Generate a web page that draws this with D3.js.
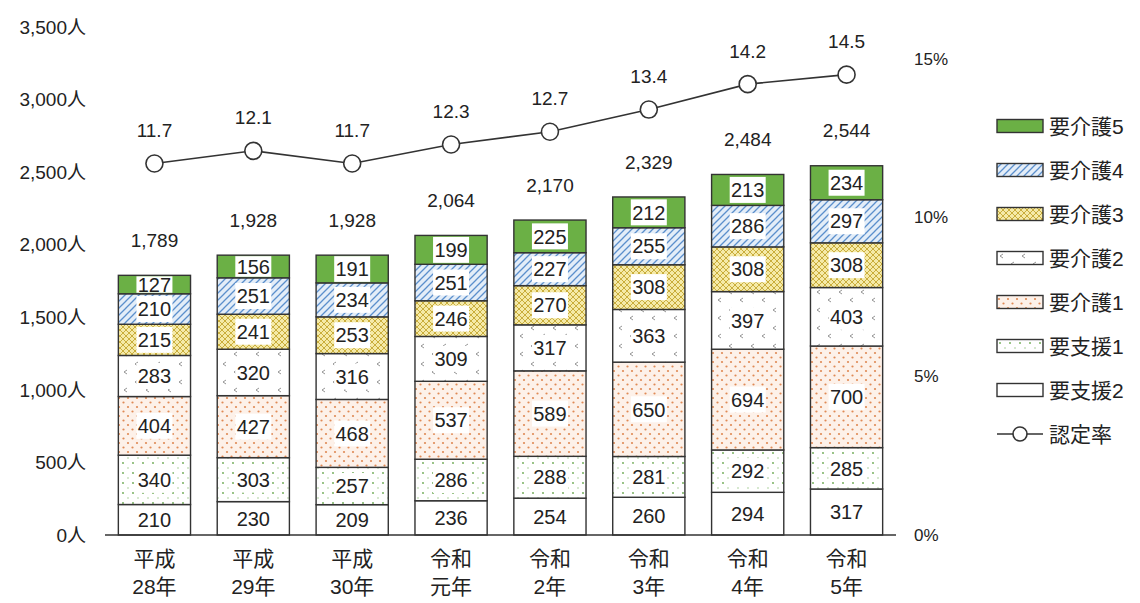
<!DOCTYPE html>
<html>
<head>
<meta charset="utf-8">
<script src="https://cdn.jsdelivr.net/npm/d3@7"></script>
<style>
  body { margin: 0; background: #fff; }
  text { font-family: "Liberation Sans", "Noto Sans CJK JP", sans-serif; fill: #222; }
</style>
</head>
<body>
<div id="chart"></div>
<script>
const categories = [["平成", "28年"], ["平成", "29年"], ["平成", "30年"], ["令和", "元年"],
  ["令和", "2年"], ["令和", "3年"], ["令和", "4年"], ["令和", "5年"]];

// stacked from the bottom
const seriesNames = ["要支援2", "要支援1", "要介護1", "要介護2", "要介護3", "要介護4", "要介護5"];
const shien2 = [210, 230, 209, 236, 254, 260, 294, 317];
const shien1 = [340, 303, 257, 286, 288, 281, 292, 285];
const kaigo1 = [404, 427, 468, 537, 589, 650, 694, 700];
const kaigo2 = [283, 320, 316, 309, 317, 363, 397, 403];
const kaigo3 = [215, 241, 253, 246, 270, 308, 308, 308];
const kaigo4 = [210, 251, 234, 251, 227, 255, 286, 297];
const kaigo5 = [127, 156, 191, 199, 225, 212, 213, 234];
const totals = [1789, 1928, 1928, 2064, 2170, 2329, 2484, 2544];
const rates = [11.7, 12.1, 11.7, 12.3, 12.7, 13.4, 14.2, 14.5];

const leftTicks = [0, 500, 1000, 1500, 2000, 2500, 3000, 3500];
const rightTicks = [0, 5, 10, 15];

const width = 1140, height = 603;
const svg = d3.select("#chart").append("svg")
  .attr("width", width).attr("height", height);

// patterns
const defs = svg.append("defs");
function pat(id, w, h, bg) {
  const p = defs.append("pattern").attr("id", id)
    .attr("patternUnits", "userSpaceOnUse").attr("width", w).attr("height", h);
  p.append("rect").attr("width", w).attr("height", h).attr("fill", bg);
  return p;
}
// 要介護4 - blue diagonal hatch
pat("p4", 7, 7, "#e3edf8")
  .append("path").attr("d", "M-1,8 L8,-1 M-2,2 L2,-2 M5,9 L9,5")
  .attr("stroke", "#5b8fcc").attr("stroke-width", 1.3);
// 要介護3 - yellow lattice
const p3 = pat("p3", 6, 6, "#f5eaa8");
p3.append("path").attr("d", "M0,0 L6,6 M6,0 L0,6")
  .attr("stroke", "#c4a630").attr("stroke-width", 0.9);
// 要介護2 - scattered grey marks
const p2 = pat("p2", 22, 18, "#ffffff");
p2.append("path").attr("d", "M6,2 L3,4 L6,6 M17,10 L14,12 L17,14")
  .attr("stroke", "#888").attr("stroke-width", 0.9).attr("fill", "none");
// 要介護1 - orange dots on peach
const p1 = pat("p1", 9, 9, "#fdf1e9");
p1.append("circle").attr("cx", 2).attr("cy", 2).attr("r", 1.1).attr("fill", "#e08a55");
p1.append("circle").attr("cx", 6.5).attr("cy", 6.5).attr("r", 1.1).attr("fill", "#e08a55");
// 要支援1 - sparse green dots
const ps = pat("ps1", 10, 10, "#ffffff");
ps.append("circle").attr("cx", 3).attr("cy", 3).attr("r", 0.9).attr("fill", "#6aa84f");
ps.append("circle").attr("cx", 8).attr("cy", 8).attr("r", 0.7).attr("fill", "#8fbf7a");

const fills = {
  "要支援2": "#ffffff",
  "要支援1": "url(#ps1)",
  "要介護1": "url(#p1)",
  "要介護2": "url(#p2)",
  "要介護3": "url(#p3)",
  "要介護4": "url(#p4)",
  "要介護5": "#6bb045"
};

const seriesValues = [shien2, shien1, kaigo1, kaigo2, kaigo3, kaigo4, kaigo5];
const rows = categories.map((c, i) => {
  const r = { idx: i };
  seriesNames.forEach((n, k) => { r[n] = seriesValues[k][i]; });
  return r;
});

const x = d3.scaleBand().domain(d3.range(categories.length))
  .range([105, 896]).paddingInner(0.27).paddingOuter(0.135);
const y = d3.scaleLinear().domain([0, 3500]).range([535, 27]);
const yR = d3.scaleLinear().domain([0, 16]).range([535, 27]);

// left axis labels
svg.append("g").selectAll("text").data(leftTicks).join("text")
  .attr("x", 86).attr("y", d => y(d)).attr("dy", "0.35em")
  .attr("text-anchor", "end").attr("font-size", 19)
  .text(d => d3.format(",")(d) + "人");

// right axis labels
svg.append("g").selectAll("text").data(rightTicks).join("text")
  .attr("x", 914).attr("y", d => yR(d)).attr("dy", "0.35em")
  .attr("font-size", 17)
  .text(d => d + "%");

// stacked bars
const stack = d3.stack().keys(seriesNames)(rows);
const layers = svg.append("g").selectAll("g").data(stack).join("g");
layers.selectAll("rect").data(d => d.map(v => ({ key: d.key, v })))
  .join("rect")
  .attr("x", d => x(d.v.data.idx))
  .attr("y", d => y(d.v[1]))
  .attr("width", x.bandwidth())
  .attr("height", d => y(d.v[0]) - y(d.v[1]))
  .attr("fill", d => fills[d.key])
  .attr("stroke", "#333").attr("stroke-width", 1.4);

// segment labels with white boxes
const labG = svg.append("g");
stack.forEach(layer => {
  layer.forEach(v => {
    const cx = x(v.data.idx) + x.bandwidth() / 2;
    const top = y(v[1]), bot = y(v[0]);
    const h = bot - top;
    const bh = Math.min(h - 2, 26);
    labG.append("rect")
      .attr("x", cx - 18).attr("y", (top + bot) / 2 - bh / 2)
      .attr("width", 36).attr("height", bh).attr("fill", "#fff");
    labG.append("text")
      .attr("x", cx).attr("y", (top + bot) / 2).attr("dy", "0.36em")
      .attr("text-anchor", "middle").attr("font-size", 20)
      .text(v.data[layer.key]);
  });
});

// totals
svg.append("g").selectAll("text").data(totals).join("text")
  .attr("x", (d, i) => x(i) + x.bandwidth() / 2)
  .attr("y", d => y(d) - 35).attr("dy", "0.35em")
  .attr("text-anchor", "middle").attr("font-size", 19)
  .text(d => d3.format(",")(d));

// baseline
svg.append("line").attr("x1", 105).attr("x2", 896)
  .attr("y1", y(0)).attr("y2", y(0))
  .attr("stroke", "#333").attr("stroke-width", 1.4);

// category labels
const catG = svg.append("g").selectAll("text").data(categories).join("text")
  .attr("text-anchor", "middle").attr("font-size", 21);
catG.append("tspan").attr("x", (d, i) => x(i) + x.bandwidth() / 2).attr("y", 566).text(d => d[0]);
catG.append("tspan").attr("x", (d, i) => x(i) + x.bandwidth() / 2).attr("y", 594).text(d => d[1]);

// rate line
const line = d3.line().x((d, i) => x(i) + x.bandwidth() / 2).y(d => yR(d));
svg.append("path").datum(rates).attr("d", line)
  .attr("fill", "none").attr("stroke", "#333").attr("stroke-width", 1.6);
svg.append("g").selectAll("circle").data(rates).join("circle")
  .attr("cx", (d, i) => x(i) + x.bandwidth() / 2).attr("cy", d => yR(d))
  .attr("r", 8.5).attr("fill", "#fff").attr("stroke", "#333").attr("stroke-width", 1.6);
svg.append("g").selectAll("text").data(rates).join("text")
  .attr("x", (d, i) => x(i) + x.bandwidth() / 2).attr("y", d => yR(d) - 33).attr("dy", "0.35em")
  .attr("text-anchor", "middle").attr("font-size", 19)
  .text(d => d.toFixed(1));

// legend
const legendItems = seriesNames.slice().reverse();
const lg = svg.append("g").attr("transform", "translate(997,0)");
legendItems.forEach((n, i) => {
  const cy = 126 + i * 44;
  lg.append("rect").attr("x", 0).attr("y", cy - 6.5).attr("width", 46).attr("height", 13)
    .attr("fill", fills[n]).attr("stroke", "#333").attr("stroke-width", 1.4);
  lg.append("text").attr("x", 52).attr("y", cy).attr("dy", "0.36em")
    .attr("font-size", 21).text(n);
});
const ly = 126 + legendItems.length * 44;
lg.append("line").attr("x1", 0).attr("x2", 46).attr("y1", ly).attr("y2", ly)
  .attr("stroke", "#333").attr("stroke-width", 1.6);
lg.append("circle").attr("cx", 23).attr("cy", ly).attr("r", 7)
  .attr("fill", "#fff").attr("stroke", "#333").attr("stroke-width", 1.6);
lg.append("text").attr("x", 52).attr("y", ly).attr("dy", "0.36em")
  .attr("font-size", 21).text("認定率");
</script>
</body>
</html>
